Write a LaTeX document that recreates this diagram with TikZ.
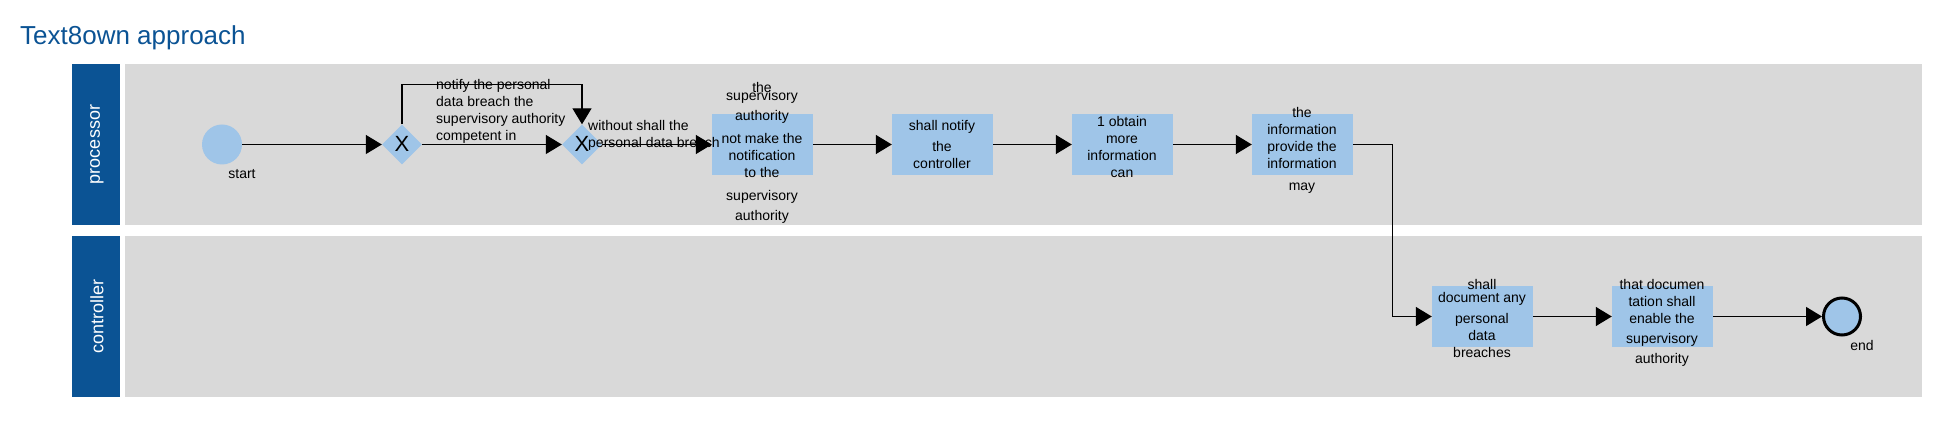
\documentclass[tikz,border=0pt]{standalone}
\usepackage{fontspec}
\setmainfont{Liberation Sans}
\usepackage{xcolor}
\usepackage{tikz}
\usetikzlibrary{shapes.geometric}
\usetikzlibrary{arrows.meta}
\definecolor{laneblue}{HTML}{0B5394}
\definecolor{lanegray}{HTML}{D9D9D9}
\definecolor{taskblue}{HTML}{9FC5E8}

\begin{document}
\begin{tikzpicture}[x=1pt, y=-1pt,
	task/.style={rectangle, fill=taskblue, minimum width=101pt, minimum height=61pt, inner sep=0pt},
	gate/.style={diamond, fill=taskblue, minimum width=40pt, minimum height=40pt, inner sep=0pt, text height=14pt, text depth=0pt, font=\fontsize{22}{26}\selectfont},
	event/.style={circle, fill=taskblue, minimum size=40pt, inner sep=0pt},
	txt/.style={inner sep=0pt, yshift=-2.5pt, align=center, font=\fontsize{14}{17}\selectfont},
	head/.style={rotate=90, inner sep=0pt, text=white, font=\fontsize{18}{22}\selectfont},
	flow/.style={line width=1.4pt, -{Triangle[length=16pt, width=19pt]}}]
	\useasboundingbox (0,0) rectangle (1939,438);
	% title
	\node[anchor=base west, inner sep=0pt, text=laneblue, font=\fontsize{26}{31}\selectfont] (title) at (20,45) {Text8own approach};
	% lanes
	\fill[laneblue] (72,64) rectangle (120,225);
	\fill[lanegray] (125,64) rectangle (1922,225);
	\fill[laneblue] (72,236) rectangle (120,397);
	\fill[lanegray] (125,236) rectangle (1922,397);
	\node[head] (processor) at (97,144.5) {processor};
	\node[head] (controller) at (97,316.5) {controller};
	% flow elements
	\node[event] (start) at (222,144.5) {};
	\node[gate] (gw1) at (402,144.5) {X};
	\node[gate] (gw2) at (582,144.5) {X};
	\node[task] (t1) at (762.5,144.5) {};
	\node[task] (t2) at (942.5,144.5) {};
	\node[task] (t3) at (1122.5,144.5) {};
	\node[task] (t4) at (1302.5,144.5) {};
	\node[task] (t5) at (1482.5,316.5) {};
	\node[task] (t6) at (1662.5,316.5) {};
	\node[event, draw=black, line width=3pt, minimum size=37pt] (finish) at (1842,316.5) {};
	% texts
	\node[txt, anchor=base] (startlbl) at (242,175.6) {start};
	\node[txt, anchor=north west, align=left] (looplbl) at (436,76.6) {notify the personal\\data breach the\\supervisory authority\\competent in};
	\node[txt, anchor=north west, align=left] (flowlbl) at (588,117.6) {without shall the\\personal data breach};
	\node[txt, anchor=base] (t1a) at (762,89.6) {the};
	\node[txt, anchor=north] (t1b) at (762,87.6) {supervisory\\[3pt]authority};
	\node[txt, anchor=north] (t1c) at (762,130.6) {not make the\\notification\\to the};
	\node[txt, anchor=north] (t1d) at (762,187.6) {supervisory\\[3pt]authority};
	\node[txt, anchor=base] (t2a) at (942,127.6) {shall notify};
	\node[txt, anchor=north] (t2b) at (942,138.6) {the\\controller};
	\node[txt, anchor=north] (t3a) at (1122,113.6) {1 obtain\\more\\information\\can};
	\node[txt, anchor=north] (t4a) at (1302,104.6) {the\\information\\provide the\\information};
	\node[txt, anchor=base] (t4b) at (1302,187.6) {may};
	\node[txt, anchor=base] (t5a) at (1482,286.9) {shall};
	\node[txt, anchor=base] (t5b) at (1482,300.3) {document any};
	\node[txt, anchor=north] (t5c) at (1482,310.6) {personal\\data\\breaches};
	\node[txt, anchor=north] (t6a) at (1662,276.6) {that documen\\tation shall\\enable the};
	\node[txt, anchor=north] (t6b) at (1662,330.6) {supervisory\\[3pt]authority};
	\node[txt, anchor=base] (finishlbl) at (1862,347.6) {end};
	% connectors
	\draw[flow] (start) -- (gw1);
	\draw[flow] (gw1) -- (gw2);
	\draw[flow] (gw1.north) -- ++(0,-40) -| (gw2.north);
	\draw[flow] (gw2) -- (t1);
	\draw[flow] (t1) -- (t2);
	\draw[flow] (t2) -- (t3);
	\draw[flow] (t3) -- (t4);
	\draw[flow] (t4.east) -- ++(39.5,0) |- (t5.west);
	\draw[flow] (t5) -- (t6);
	\draw[flow] (t6) -- (finish);
\end{tikzpicture}
\end{document}
